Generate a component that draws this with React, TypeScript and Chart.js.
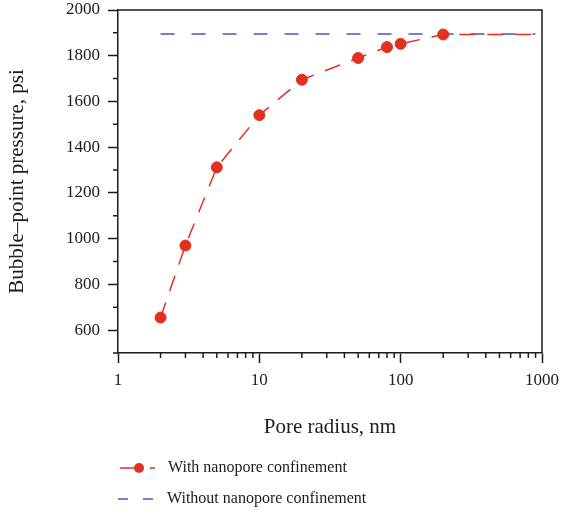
import React, { useEffect, useRef } from "react";
import { Chart, registerables } from "chart.js";

Chart.register(...registerables);

// Bubble-point pressure vs. pore radius
const poreRadius = [2, 3, 5, 10, 20, 50, 80, 100, 200, 900];
const pressureConfined = [655, 970, 1312, 1540, 1695, 1790, 1838, 1852, 1893, 1893];
const markerShown = [true, true, true, true, true, true, true, true, true, false];

const bulkRadius = [2, 900];
const pressureBulk = [1895, 1895];

const xTickValues = [1, 10, 100, 1000];
const yTickValues = [600, 800, 1000, 1200, 1400, 1600, 1800, 2000];
const yMinorValues = [500, 700, 900, 1100, 1300, 1500, 1700, 1900];
const xMinorMultipliers = [2, 3, 4, 5, 6, 7, 8, 9];
const xMinorDecades = [1, 10, 100];

const legendLabels = ["With nanopore confinement", "Without nanopore confinement"];

const RED = "#e1301f";
const BLUE = "#4d53c0";
const INK = "#1c1c1c";
const SERIF = "'Liberation Serif', 'DejaVu Serif', serif";

const frameAndTicks = {
  id: "frameAndTicks",
  afterDraw(chart: any) {
    const { ctx, chartArea } = chart;
    const xs = chart.scales.x;
    const ys = chart.scales.y;
    ctx.save();
    ctx.strokeStyle = INK;
    ctx.lineWidth = 1.5;
    // top and right frame
    ctx.beginPath();
    ctx.moveTo(chartArea.left, chartArea.top);
    ctx.lineTo(chartArea.right, chartArea.top);
    ctx.lineTo(chartArea.right, chartArea.bottom);
    ctx.stroke();
    // minor ticks
    ctx.beginPath();
    for (const v of yMinorValues) {
      const py = ys.getPixelForValue(v);
      ctx.moveTo(chartArea.left - 5, py);
      ctx.lineTo(chartArea.left, py);
    }
    for (const d of xMinorDecades) {
      for (const m of xMinorMultipliers) {
        const px = xs.getPixelForValue(d * m);
        ctx.moveTo(px, chartArea.bottom);
        ctx.lineTo(px, chartArea.bottom + 5);
      }
    }
    ctx.stroke();

    // legend
    const lx = chartArea.left + 2;
    const row1 = chartArea.bottom + 115;
    const row2 = chartArea.bottom + 146;
    ctx.lineWidth = 1.5;
    ctx.strokeStyle = RED;
    ctx.beginPath();
    ctx.moveTo(lx, row1);
    ctx.lineTo(lx + 23, row1);
    ctx.moveTo(lx + 30, row1);
    ctx.lineTo(lx + 35, row1);
    ctx.stroke();
    ctx.fillStyle = RED;
    ctx.beginPath();
    ctx.arc(lx + 19, row1, 5, 0, Math.PI * 2);
    ctx.fill();

    ctx.strokeStyle = BLUE;
    ctx.beginPath();
    ctx.moveTo(lx - 2, row2);
    ctx.lineTo(lx + 8, row2);
    ctx.moveTo(lx + 23, row2);
    ctx.lineTo(lx + 33, row2);
    ctx.stroke();

    ctx.fillStyle = INK;
    ctx.font = `16px ${SERIF}`;
    ctx.textAlign = "left";
    ctx.textBaseline = "middle";
    ctx.fillText(legendLabels[0], lx + 48, row1);
    ctx.fillText(legendLabels[1], lx + 47, row2);
    ctx.restore();
  },
};

export default function App() {
  const canvasRef = useRef<HTMLCanvasElement | null>(null);

  useEffect(() => {
    if (!canvasRef.current) return;
    const chart = new Chart(canvasRef.current, {
      type: "line",
      data: {
        datasets: [
          {
            label: legendLabels[0],
            data: poreRadius.map((r, i) => ({ x: r, y: pressureConfined[i] })),
            borderColor: RED,
            backgroundColor: RED,
            borderWidth: 1.5,
            borderDash: [16, 12],
            pointRadius: markerShown.map((s) => (s ? 5.5 : 0)),
            pointBorderWidth: 1,
            pointBackgroundColor: RED,
            pointBorderColor: RED,
            tension: 0,
          },
          {
            label: legendLabels[1],
            data: bulkRadius.map((r, i) => ({ x: r, y: pressureBulk[i] })),
            borderColor: BLUE,
            backgroundColor: BLUE,
            borderWidth: 1.5,
            borderDash: [14, 17],
            pointRadius: 0,
            tension: 0,
          },
        ],
      },
      options: {
        animation: false,
        responsive: false,
        maintainAspectRatio: false,
        layout: { padding: { top: 10, right: 20, bottom: 70, left: 0 } },
        plugins: {
          legend: { display: false },
          tooltip: { enabled: false },
        },
        scales: {
          x: {
            type: "logarithmic",
            position: "bottom",
            min: 1,
            max: 1000,
            afterBuildTicks: (s: any) => {
              s.ticks = xTickValues.map((v) => ({ value: v }));
            },
            afterFit: (s: any) => {
              s.height = 87;
              s.paddingLeft = 0;
              s.paddingRight = 0;
            },
            ticks: {
              callback: (v: any) => String(v),
              autoSkip: false,
              maxRotation: 0,
              padding: 7,
              color: INK,
              font: { family: SERIF, size: 17 },
            },
            grid: {
              drawOnChartArea: false,
              drawTicks: true,
              tickLength: 10,
              tickColor: INK,
              tickWidth: 1.5,
            },
            border: { display: true, color: INK, width: 1.5 },
            title: {
              display: true,
              text: "Pore radius, nm",
              color: INK,
              font: { family: SERIF, size: 21 },
              padding: { top: 0, bottom: 0 },
            },
          },
          y: {
            type: "linear",
            min: 500,
            max: 2000,
            afterBuildTicks: (s: any) => {
              s.ticks = yTickValues.map((v) => ({ value: v }));
            },
            afterFit: (s: any) => {
              s.width = 118;
              s.paddingTop = 0;
              s.paddingBottom = 0;
            },
            ticks: {
              callback: (v: any) => String(v),
              padding: 8,
              color: INK,
              font: { family: SERIF, size: 17 },
            },
            grid: {
              drawOnChartArea: false,
              drawTicks: true,
              tickLength: 10,
              tickColor: INK,
              tickWidth: 1.5,
            },
            border: { display: true, color: INK, width: 1.5 },
            title: {
              display: true,
              text: "Bubble–point pressure, psi",
              color: INK,
              font: { family: SERIF, size: 21 },
              padding: { top: 5, bottom: 0 },
            },
          },
        },
      },
      plugins: [frameAndTicks],
    });
    return () => chart.destroy();
  }, []);

  return (
    <div style={{ position: "fixed", left: 0, top: 0, width: 562, height: 510, background: "#fff" }}>
      <canvas ref={canvasRef} width={562} height={510} />
    </div>
  );
}
